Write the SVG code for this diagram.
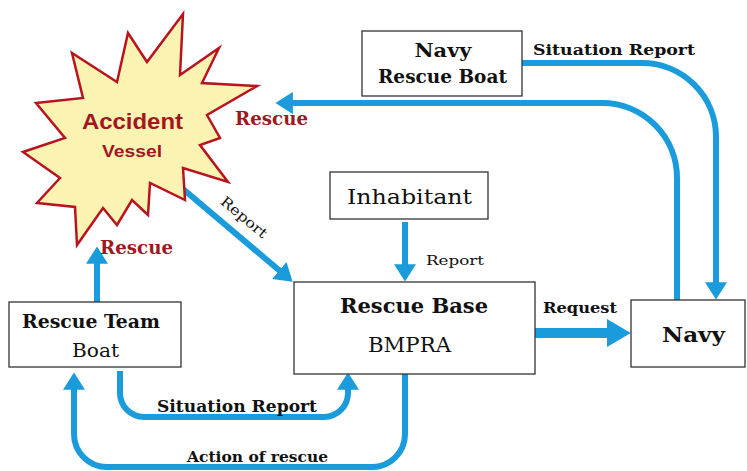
<svg xmlns="http://www.w3.org/2000/svg" width="747" height="471" viewBox="0 0 747 471">
<defs>
<style>
.box{fill:#fff;stroke:#333;stroke-width:1.3}
.t{font-family:"DejaVu Serif","Liberation Serif",serif;fill:#111;text-anchor:middle}
.b{font-weight:bold}
.red{fill:#9a1b1f}
.con{fill:none;stroke:#1a9bdb;stroke-width:6}
.big{fill:none;stroke:#1a9bdb;stroke-width:10}
.acc{font-family:"Liberation Sans",Arial,sans-serif;font-weight:bold;fill:#a3161f;text-anchor:middle}
</style>
<marker id="ah" viewBox="0 0 10 10" refX="0.5" refY="5" markerWidth="2.9" markerHeight="3.7" orient="auto" preserveAspectRatio="none">
<path d="M0,0 L10,5 L0,10 z" fill="#1a9bdb"/>
</marker>
<marker id="ahb" viewBox="0 0 10 10" refX="0.5" refY="5" markerWidth="2.4" markerHeight="2.8" orient="auto" preserveAspectRatio="none">
<path d="M0,0 L10,5 L0,10 z" fill="#1a9bdb"/>
</marker>
</defs>
<rect width="747" height="471" fill="#fff"/>

<g id="connectors">
<path class="con" marker-end="url(#ah)" d="M522,63 H642 A74,74 0 0 1 716,137 V283"/>
<path class="con" marker-end="url(#ah)" d="M677,300 V178 A75,75 0 0 0 602,103 H292"/>
<path class="con" marker-end="url(#ah)" d="M157,167 L280,271"/>
<path class="con" marker-end="url(#ah)" d="M405,222 V265"/>
<path class="con" marker-end="url(#ah)" d="M97,302 V263"/>
<path class="con" marker-end="url(#ah)" d="M120,371 V393 A24,24 0 0 0 144,417 H324 A24,24 0 0 0 348,393 V389"/>
<path class="con" marker-end="url(#ah)" d="M405,374 V434 A33,33 0 0 1 372,467 H107 A33,33 0 0 1 74,434 V389"/>
<path class="big" marker-end="url(#ahb)" d="M535,333 H608"/>
<text class="t b" x="614" y="55" font-size="15" textLength="162" lengthAdjust="spacingAndGlyphs">Situation Report</text>
<text class="t b red" x="271.5" y="125" font-size="18" textLength="73" lengthAdjust="spacingAndGlyphs">Rescue</text>
<text class="t" x="455" y="265" font-size="13" textLength="58" lengthAdjust="spacingAndGlyphs">Report</text>
<text class="t" x="0" y="0" font-size="14" textLength="56" lengthAdjust="spacingAndGlyphs" transform="translate(241,221) rotate(40)">Report</text>
<text class="t b" x="580" y="313" font-size="15" textLength="74" lengthAdjust="spacingAndGlyphs">Request</text>
<text class="t b red" x="136.5" y="254" font-size="18" textLength="73" lengthAdjust="spacingAndGlyphs">Rescue</text>
<text class="t b" x="237" y="412" font-size="16" textLength="160" lengthAdjust="spacingAndGlyphs">Situation Report</text>
<text class="t b" x="257.5" y="462" font-size="15" textLength="141" lengthAdjust="spacingAndGlyphs">Action of rescue</text>
</g>

<g id="accident">
<polygon fill="#fbf3b2" stroke="#b8141f" stroke-width="2.5" stroke-linejoin="miter" points="183,14 180,75 219,48 202,83 257,86 207,115 220,138 200,145 228,182 183,168 185,200 150,183 148,215 132,200 117,225 103,208 77,245 75,207 37,203 60,178 23,152 65,138 36,103 83,98 72,53 117,82 128,33 147,62"/>
<text class="acc" x="132.5" y="129" font-size="22" textLength="101" lengthAdjust="spacingAndGlyphs">Accident</text>
<text class="acc" x="132" y="157" font-size="17" textLength="60" lengthAdjust="spacingAndGlyphs">Vessel</text>
</g>

<g id="navy-rescue-boat">
<rect class="box" x="362" y="31" width="160" height="65"/>
<text class="t b" x="443" y="57" font-size="19" textLength="57" lengthAdjust="spacingAndGlyphs">Navy</text>
<text class="t b" x="442.5" y="83" font-size="19" textLength="129" lengthAdjust="spacingAndGlyphs">Rescue Boat</text>
</g>

<g id="inhabitant">
<rect class="box" x="330" y="172" width="158" height="47"/>
<text class="t" x="409.5" y="204" font-size="21" textLength="125" lengthAdjust="spacingAndGlyphs">Inhabitant</text>
</g>

<g id="rescue-base">
<rect class="box" x="294" y="282" width="241" height="92"/>
<text class="t b" x="414" y="313" font-size="20" textLength="148" lengthAdjust="spacingAndGlyphs">Rescue Base</text>
<text class="t" x="409.5" y="352" font-size="20" textLength="83" lengthAdjust="spacingAndGlyphs">BMPRA</text>
</g>

<g id="navy">
<rect class="box" x="631" y="300" width="114" height="67"/>
<text class="t b" x="693.5" y="342" font-size="21" textLength="63" lengthAdjust="spacingAndGlyphs">Navy</text>
</g>

<g id="rescue-team-boat">
<rect class="box" x="9" y="302" width="172" height="65"/>
<text class="t b" x="91" y="328" font-size="18" textLength="138" lengthAdjust="spacingAndGlyphs">Rescue Team</text>
<text class="t" x="95.5" y="357" font-size="19" textLength="47" lengthAdjust="spacingAndGlyphs">Boat</text>
</g>
</svg>
